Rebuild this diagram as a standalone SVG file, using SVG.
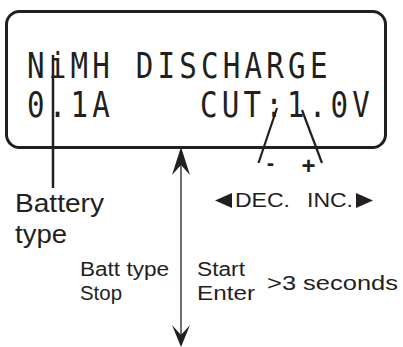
<svg xmlns="http://www.w3.org/2000/svg" width="403" height="347" viewBox="0 0 403 347">
<style>
.lcd{font-family:"DejaVu Sans Mono","Liberation Mono",monospace;font-size:36px;letter-spacing:5.2px;fill:#231f20}
.lbl{font-family:"Liberation Sans",Arial,sans-serif;fill:#231f20}
.ln{stroke:#231f20;fill:none}
</style>
<rect width="403" height="347" fill="#fff"/>
<g id="lcd">
<rect x="6.5" y="11.5" width="379" height="136" rx="13" ry="13" fill="#fff" stroke="#231f20" stroke-width="3"/>
<g transform="scale(0.81,1)">
<text class="lcd" x="33.3" y="78">NiMH DISCHARGE</text>
<text class="lcd" x="33.3" y="117">0.1A</text>
<text class="lcd" x="246.9" y="117">CUT:1.0V</text>
</g>
</g>
<g id="connectors">
<line class="ln" x1="53" y1="55" x2="53" y2="188" stroke-width="2.5"/>
<line class="ln" x1="277" y1="108" x2="258.5" y2="163" stroke-width="2.2"/>
<line class="ln" x1="302" y1="110" x2="322" y2="163" stroke-width="2.2"/>
<line class="ln" x1="181" y1="160" x2="181" y2="338" stroke-width="1.3" stroke="#555"/>
<polygon points="181,147 172,175 181,165 190,175" fill="#231f20"/>
<polygon points="181,347 172,325 181,335 190,325" fill="#231f20"/>
</g>
<g id="battery-type">
<text class="lbl" x="15" y="212" font-size="25" textLength="89" lengthAdjust="spacingAndGlyphs">Battery</text>
<text class="lbl" x="15" y="243" font-size="25" textLength="52" lengthAdjust="spacingAndGlyphs">type</text>
</g>
<g id="dec-inc">
<text class="lbl" x="270.5" y="169.5" font-size="22" font-weight="bold" text-anchor="middle">-</text>
<text class="lbl" x="308.5" y="174" font-size="24" font-weight="bold" text-anchor="middle">+</text>
<polygon points="215,200.5 232,193 232,208" fill="#231f20"/>
<text class="lbl" x="235" y="207" font-size="20" textLength="55" lengthAdjust="spacingAndGlyphs">DEC.</text>
<text class="lbl" x="307" y="207" font-size="20" textLength="46" lengthAdjust="spacingAndGlyphs">INC.</text>
<polygon points="373,200.5 356,193 356,208" fill="#231f20"/>
</g>
<g id="left-button">
<text class="lbl" x="80" y="276" font-size="20" textLength="89" lengthAdjust="spacingAndGlyphs">Batt type</text>
<text class="lbl" x="80" y="300" font-size="20" textLength="42" lengthAdjust="spacingAndGlyphs">Stop</text>
</g>
<g id="right-button">
<text class="lbl" x="197" y="276" font-size="20" textLength="48" lengthAdjust="spacingAndGlyphs">Start</text>
<text class="lbl" x="197" y="300" font-size="20" textLength="58" lengthAdjust="spacingAndGlyphs">Enter</text>
<text class="lbl" x="267" y="290" font-size="21" textLength="131" lengthAdjust="spacingAndGlyphs">&gt;3 seconds</text>
</g>
</svg>
